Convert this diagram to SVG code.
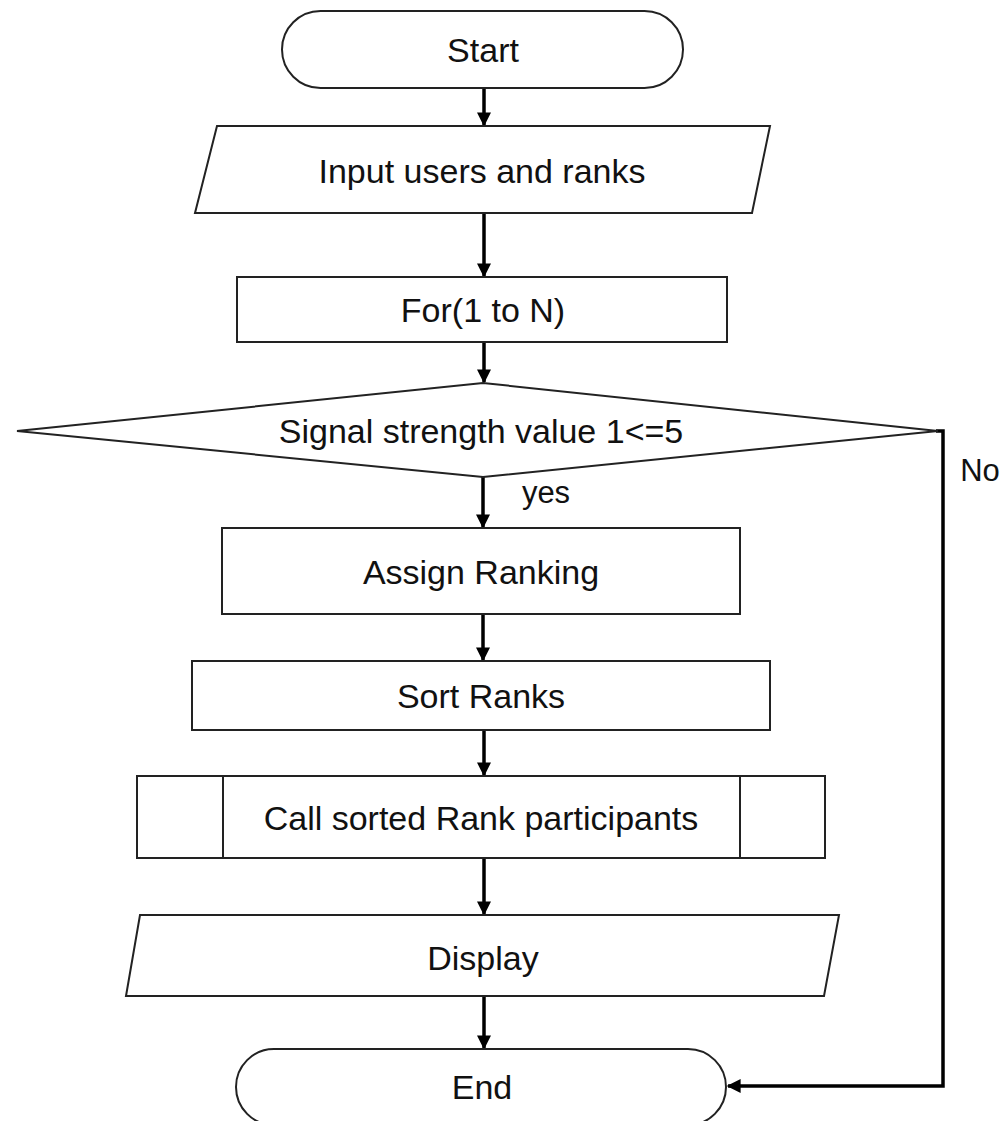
<svg xmlns="http://www.w3.org/2000/svg" width="1008" height="1121" viewBox="0 0 1008 1121">
<style>
.s{fill:#fff;stroke:#222;stroke-width:2}
.t{font-family:"Liberation Sans",Arial,sans-serif;font-size:34px;fill:#111;text-anchor:middle;dominant-baseline:central}
.l{font-size:31px}
.c{fill:none;stroke:#000;stroke-width:3.5}
</style>
<defs>
<marker id="ah" viewBox="0 0 10 10" refX="9" refY="5" markerWidth="4.5" markerHeight="4" orient="auto" markerUnits="strokeWidth">
<path d="M0,0 L10,5 L0,10 z" fill="#000"/>
</marker>
</defs>
<rect width="1008" height="1121" fill="#fff"/>
<g id="connectors">
<line class="c" x1="484" y1="88" x2="484" y2="125" marker-end="url(#ah)"/>
<line class="c" x1="484" y1="213" x2="484" y2="276" marker-end="url(#ah)"/>
<line class="c" x1="484" y1="342" x2="484" y2="382" marker-end="url(#ah)"/>
<line class="c" x1="483" y1="477" x2="483" y2="527" marker-end="url(#ah)"/>
<line class="c" x1="483" y1="614" x2="483" y2="660" marker-end="url(#ah)"/>
<line class="c" x1="484" y1="730" x2="484" y2="775" marker-end="url(#ah)"/>
<line class="c" x1="484" y1="858" x2="484" y2="914" marker-end="url(#ah)"/>
<line class="c" x1="484" y1="996" x2="484" y2="1048" marker-end="url(#ah)"/>
<polyline class="c" points="936,431 943,431 943,1086 728,1086" marker-end="url(#ah)"/>
<text class="t l" x="546" y="492">yes</text>
<text class="t l" x="980" y="470">No</text>
</g>
<g id="start">
<rect class="s" x="282" y="11" width="401" height="77" rx="38.5" ry="38.5"/>
<text class="t" x="483" y="50">Start</text>
</g>
<g id="input">
<polygon class="s" points="217,126 770,126 752,213 195,213"/>
<text class="t" x="482" y="171">Input users and ranks</text>
</g>
<g id="for">
<rect class="s" x="237" y="277" width="490" height="65"/>
<text class="t" x="483" y="310">For(1 to N)</text>
</g>
<g id="decision">
<polygon class="s" points="17,431 483,383 938,431 483,477"/>
<text class="t" x="481" y="431">Signal strength value 1&lt;=5</text>
</g>
<g id="assign">
<rect class="s" x="222" y="528" width="518" height="86"/>
<text class="t" x="481" y="572">Assign Ranking</text>
</g>
<g id="sort">
<rect class="s" x="192" y="661" width="578" height="69"/>
<text class="t" x="481" y="696">Sort Ranks</text>
</g>
<g id="call">
<rect class="s" x="137" y="776" width="688" height="82"/>
<line class="s" x1="223" y1="776" x2="223" y2="858"/>
<line class="s" x1="740" y1="776" x2="740" y2="858"/>
<text class="t" x="481" y="818">Call sorted Rank participants</text>
</g>
<g id="display">
<polygon class="s" points="140,915 839,915 824,996 126,996"/>
<text class="t" x="483" y="958">Display</text>
</g>
<g id="end">
<rect class="s" x="236" y="1049" width="490" height="76" rx="38" ry="38"/>
<text class="t" x="482" y="1087">End</text>
</g>
</svg>
